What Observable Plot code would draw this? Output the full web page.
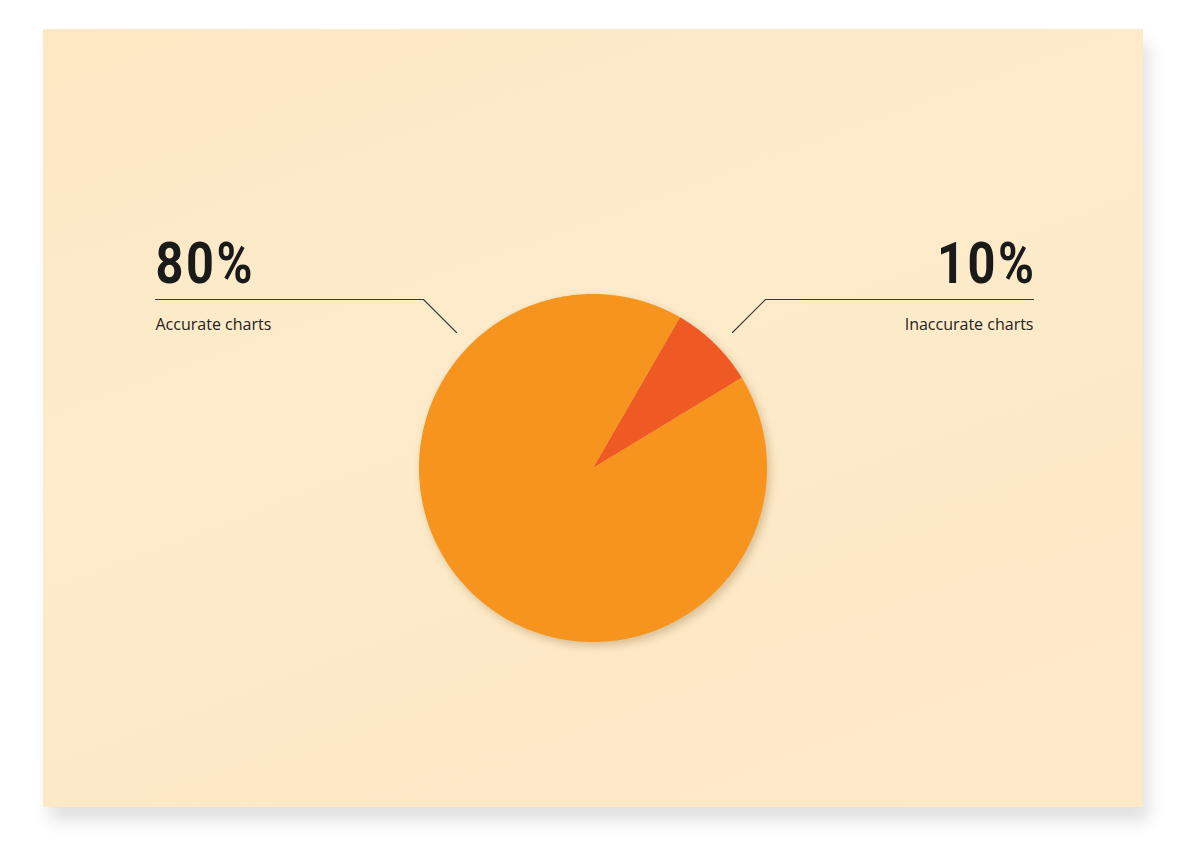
<!DOCTYPE html>
<html>
<head>
<meta charset="utf-8">
<script src="https://cdn.jsdelivr.net/npm/d3@7"></script>
<script src="https://cdn.jsdelivr.net/npm/@observablehq/plot@0.6"></script>
<style>
  html, body { margin: 0; padding: 0; background: #ffffff; }
  #wrap { position: relative; width: 1188px; height: 856px; overflow: hidden; }
  #poster {
    position: absolute; left: 43px; top: 29px; width: 1100px; height: 778px;
    background: linear-gradient(160deg, #fde8c3 0%, #fdebcb 40%, #fde9c6 70%, #feeac8 100%);
    box-shadow: 6px 14px 16px rgba(0,0,0,0.12);
  }
  #chart { position: absolute; left: 0; top: 0; }
</style>
</head>
<body>
<div id="wrap"><div id="poster"></div><div id="chart"></div></div>
<script>
// ---- data ----
const sliceNames = ["Inaccurate charts", "Accurate charts"];
const sliceShares = [8, 92];            // share of the circle as drawn (percent)
const sliceColors = ["#ef5a24", "#f7941e"];
const labelValues = ["80%", "10%"];     // printed labels
const labelNames = ["Accurate charts", "Inaccurate charts"];
const labelSides = ["left", "right"];

// ---- layout ----
const W = 1188, H = 856;
const cx = 593, cy = 468, R = 174, startDeg = 30;
const lineY = 299, leftX = 155, rightX = 1033, elbowL = 423, elbowR = 765, tipY = 332, tipDX = 33;
const bigY = 282, smallY = 329;

// pie sectors as fan-shaped areas (center -> arc)
const pts = [];
let cum = 0;
sliceNames.forEach((name, i) => {
  const a0 = startDeg + cum * 3.6;
  const a1 = a0 + sliceShares[i] * 3.6;
  const n = Math.ceil(sliceShares[i] * 3.6 * 2);
  for (let k = 0; k <= n; k++) {
    const a = (a0 + (a1 - a0) * k / n) * Math.PI / 180;
    pts.push({name, x: cx + R * Math.sin(a), y: cy - R * Math.cos(a), cx, cy});
  }
  cum += sliceShares[i];
});

// leader lines
const leaders = [];
labelSides.forEach((side, i) => {
  if (side === "left") {
    leaders.push({id: i, x: leftX, y: lineY}, {id: i, x: elbowL, y: lineY}, {id: i, x: elbowL + tipDX, y: tipY});
  } else {
    leaders.push({id: i, x: rightX, y: lineY}, {id: i, x: elbowR, y: lineY}, {id: i, x: elbowR - tipDX, y: tipY});
  }
});
const labels = labelValues.map((v, i) => ({
  value: v, name: labelNames[i],
  x: labelSides[i] === "left" ? leftX : rightX,
  anchor: labelSides[i] === "left" ? "start" : "end"
}));

const bigFont = "Roboto, 'DejaVu Sans', sans-serif";
const smallFont = "'Open Sans', sans-serif";

const plot = Plot.plot({
  width: W, height: H,
  margin: 0,
  style: {background: "transparent", overflow: "visible"},
  x: {type: "linear", domain: [0, W], range: [0, W], axis: null},
  y: {type: "linear", domain: [0, H], range: [0, H], axis: null},
  color: {domain: sliceNames, range: sliceColors},
  marks: [
    Plot.area(pts, {x1: "cx", y1: "cy", x2: "x", y2: "y", z: "name", fill: "name", curve: "linear"}),
    Plot.line(leaders, {x: "x", y: "y", z: "id", stroke: "#3a3a36", strokeWidth: 1.1}),
    Plot.text(labels.filter(d => d.anchor === "start"), {x: "x", y: () => bigY, text: "value", textAnchor: "start", lineAnchor: "bottom",
      fontSize: 58, fontWeight: "bold", fontFamily: bigFont, fill: "#1a1a1a"}),
    Plot.text(labels.filter(d => d.anchor === "end"), {x: "x", y: () => bigY, text: "value", textAnchor: "end", lineAnchor: "bottom",
      dx: 3, fontSize: 58, fontWeight: "bold", fontFamily: bigFont, fill: "#1a1a1a"}),
    Plot.text(labels.filter(d => d.anchor === "start"), {x: "x", y: () => smallY, text: "name", textAnchor: "start", lineAnchor: "bottom",
      fontSize: 16, fontFamily: smallFont, fill: "#222"}),
    Plot.text(labels.filter(d => d.anchor === "end"), {x: "x", y: () => smallY, text: "name", textAnchor: "end", lineAnchor: "bottom",
      fontSize: 16, fontFamily: smallFont, fill: "#222"})
  ]
});
document.getElementById("chart").appendChild(plot);

// styling touches
const svg = d3.select(plot);
svg.selectAll('g[aria-label="area"]').style("filter", "drop-shadow(3px 4px 4px rgba(120,80,20,0.28))");
svg.selectAll("text").each(function() {
  const g = this.closest("g");
  const fs = this.getAttribute("font-size") || (g && g.getAttribute("font-size"));
  if (fs === "58") {
    this.style.letterSpacing = "3px";
    const tr = this.getAttribute("transform") || "";
    this.setAttribute("transform", tr + " scale(0.84,1)");
  }
});
</script>
</body>
</html>
